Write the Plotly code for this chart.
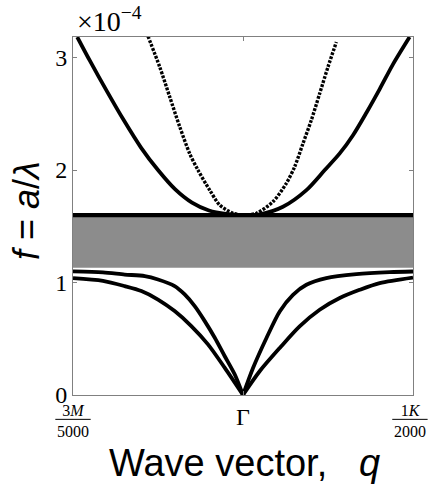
import plotly.graph_objects as go

# Frequencies are in units of 1e-4 (shown by the x10^-4 multiplier on the axis).
# Wave vector runs from M (-1) through Gamma (0) to K (+1).

# lower dispersive branch A (saturates near 1.10)
qa_left = [-1.0, -0.824, -0.696, -0.578, -0.5, -0.402, -0.343, -0.284, -0.225, -0.166, -0.108, -0.049, 0.0]
fa_left = [1.100, 1.090, 1.071, 1.057, 1.027, 0.968, 0.894, 0.790, 0.657, 0.509, 0.347, 0.184, 0.0]
qa_right = [0.0, 0.059, 0.138, 0.216, 0.294, 0.373, 0.49, 0.667, 0.863, 1.0]
fa_right = [0.0, 0.240, 0.507, 0.743, 0.891, 0.980, 1.039, 1.074, 1.092, 1.098]

# lower dispersive branch B (saturates near 1.04)
qb_left = [-1.0, -0.824, -0.696, -0.598, -0.5, -0.402, -0.304, -0.206, -0.108, 0.0]
fb_left = [1.039, 1.015, 0.968, 0.924, 0.849, 0.746, 0.613, 0.450, 0.243, 0.0]
qb_right = [0.0, 0.098, 0.216, 0.333, 0.451, 0.569, 0.686, 0.804, 1.0]
fb_right = [0.0, 0.211, 0.418, 0.610, 0.758, 0.862, 0.935, 0.995, 1.044]

# upper branch C (wide parabola)
qc = [-0.975, -0.9, -0.8, -0.7, -0.6, -0.5, -0.4, -0.3, -0.2, -0.1, 0.0,
      0.1, 0.235, 0.373, 0.481, 0.569, 0.647, 0.726, 0.804, 0.882, 0.98]
fc = [3.183, 2.97, 2.70, 2.44, 2.20, 2.0, 1.83, 1.71, 1.64, 1.61, 1.60,
      1.607, 1.674, 1.822, 2.0, 2.148, 2.31, 2.51, 2.72, 2.94, 3.183]

# upper branch D (steep parabola)
qd = [-0.559, -0.49, -0.431, -0.372, -0.314, -0.265, -0.196, -0.137, -0.059, 0.0,
      0.079, 0.176, 0.255, 0.304, 0.353, 0.402, 0.451, 0.5, 0.549]
fd = [3.19, 2.917, 2.651, 2.384, 2.148, 2.0, 1.822, 1.689, 1.616, 1.60,
      1.616, 1.719, 1.882, 2.03, 2.237, 2.444, 2.68, 2.917, 3.138]

# flat band and band gap
q_flat = [-1.0, 1.0]
f_flat = [1.60, 1.60]
gap_low = 1.131
gap_high = 1.60

y_ticks = [0, 1, 2, 3]
y_tick_text = ["0", "1", "2", "3"]
f_max = 3.183

# x-axis point labels: (position in paper units, numerator, denominator)
edge_labels = [(0.0, "3<i>M</i>", "5000"), (0.991, "1<i>K</i>", "2000")]

BLACK = "#000000"
SERIF = "Liberation Serif, DejaVu Serif, serif"
SANS = "Liberation Sans, Arial, sans-serif"

fig = go.Figure()

# shaded band gap
fig.add_trace(go.Scatter(
    x=[q_flat[0], q_flat[1], q_flat[1], q_flat[0], q_flat[0]],
    y=[gap_low, gap_low, gap_high, gap_high, gap_low],
    fill="toself", fillcolor="#8c8c8c", line=dict(width=0),
    mode="lines", hoverinfo="skip", showlegend=False))

solid = dict(color=BLACK, width=3.8, shape="spline", smoothing=0.8)
for qs, fs in [(qa_left, fa_left), (qa_right, fa_right),
               (qb_left, fb_left), (qb_right, fb_right), (qc, fc)]:
    fig.add_trace(go.Scatter(x=qs, y=fs, mode="lines", line=solid, showlegend=False))

fig.add_trace(go.Scatter(
    x=qd, y=fd, mode="lines", showlegend=False,
    line=dict(color=BLACK, width=3.4, shape="spline", smoothing=0.8, dash="2.8px,1.4px")))

fig.add_trace(go.Scatter(x=q_flat, y=f_flat, mode="lines",
                         line=dict(color=BLACK, width=4.2), showlegend=False))

axis_common = dict(showgrid=False, zeroline=False, showline=True, linecolor="#808080",
                   linewidth=1, mirror="ticks", ticks="inside", ticklen=4,
                   tickcolor="#808080", tickwidth=1)

fig.update_xaxes(range=[-1, 1], tickvals=[-1, 0, 1], showticklabels=False, **axis_common)
fig.update_yaxes(range=[0, f_max], tickvals=y_ticks, ticktext=y_tick_text,
                 tickfont=dict(family=SERIF, size=24, color=BLACK), **axis_common)

NB = "\u00a0"
annotations = [
    dict(text="×10<sup>−4</sup>", x=0.005, y=1.05, xanchor="left", yanchor="middle",
         font=dict(family=SERIF, size=28, color=BLACK)),
    dict(text="Γ", x=0.5, y=-0.062, xanchor="center", yanchor="middle",
         font=dict(family=SERIF, size=24, color=BLACK)),
    dict(text="Wave vector," + NB * 3 + "<i>q</i>", x=0.503, y=-0.19, xanchor="center",
         yanchor="middle", font=dict(family=SANS, size=38, color=BLACK)),
    dict(text="<i>f</i> = <i>a</i>/<i>λ</i>", x=-0.135, y=0.514, xanchor="center",
         yanchor="middle", textangle=-90, font=dict(family=SANS, size=36, color=BLACK)),
]
shapes = []
for xp, num, den in edge_labels:
    annotations.append(dict(text=num + "<br>" + den, x=xp, y=-0.072, xanchor="center",
                            yanchor="middle", font=dict(family=SERIF, size=16, color=BLACK)))
    # fraction bar
    shapes.append(dict(type="line", xref="paper", yref="paper", x0=xp - 0.052, x1=xp + 0.052,
                       y0=-0.068, y1=-0.068, line=dict(color=BLACK, width=1)))
for a in annotations:
    a.update(xref="paper", yref="paper", showarrow=False)

fig.update_layout(
    width=436, height=493,
    margin=dict(l=73, r=23, t=37, b=98),
    paper_bgcolor="white", plot_bgcolor="white",
    annotations=annotations, shapes=shapes,
)

fig.write_html("out.html")
